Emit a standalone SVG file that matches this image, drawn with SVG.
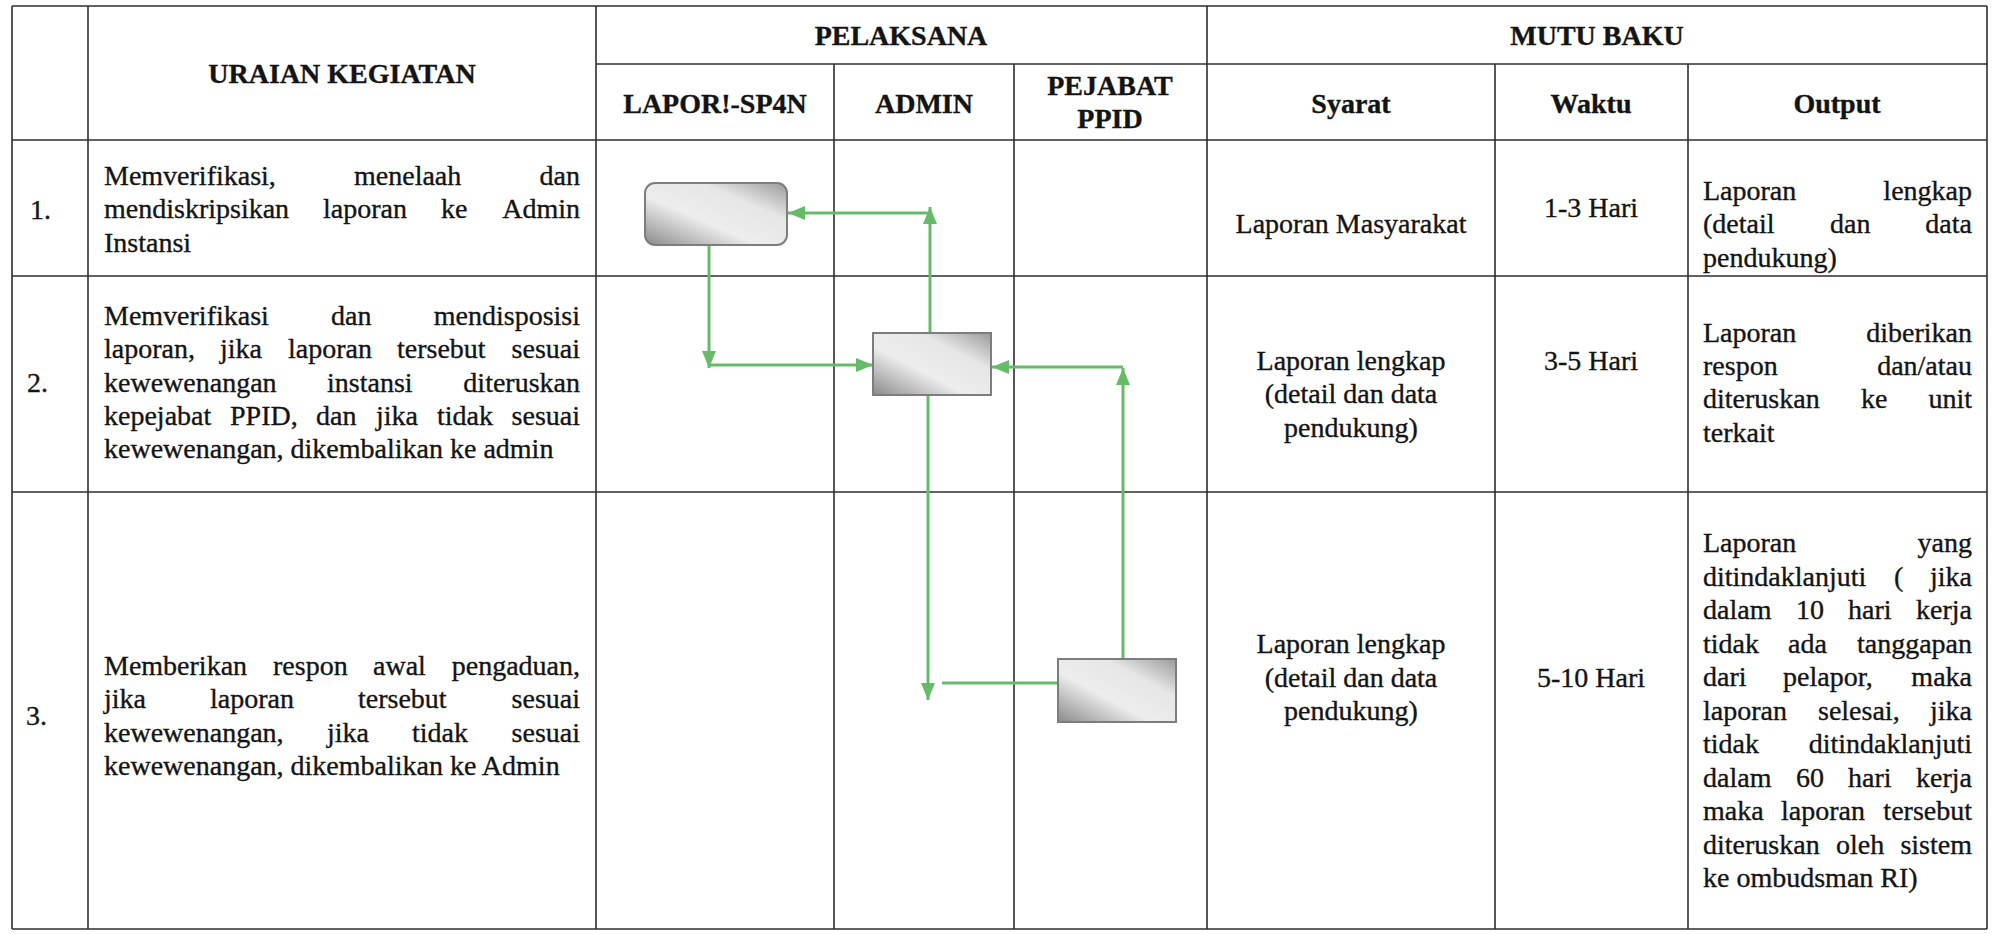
<svg xmlns="http://www.w3.org/2000/svg" width="1996" height="934" viewBox="0 0 1996 934">
<style>
.t{font-family:"Liberation Serif","Times New Roman",serif;font-size:28px;fill:#141414;stroke:#141414;stroke-width:0.35px}
.b{font-weight:bold}
.m{text-anchor:middle}
.r{text-anchor:end}
.grid line{stroke:#2e2e2e;stroke-width:1.6}
.conn{stroke:#66bb6a;stroke-width:3;fill:none}
.box{fill:url(#g);stroke:#7d7d7d;stroke-width:2}
</style>
<defs>
<linearGradient id="g" x1="0" y1="1" x2="1" y2="0">
<stop offset="0" stop-color="#8a8a8a"/>
<stop offset="0.4" stop-color="#ededed"/>
<stop offset="0.7" stop-color="#e6e6e6"/>
<stop offset="1" stop-color="#9a9a9a"/>
</linearGradient>
<marker id="ah" markerUnits="userSpaceOnUse" markerWidth="17" markerHeight="14" refX="17" refY="7" orient="auto">
<path d="M0,0 L17,7 L0,14 z" fill="#66bb6a"/>
</marker>
</defs>
<rect width="1996" height="934" fill="#ffffff"/>
<g id="table" class="grid">
<line x1="12" y1="6" x2="1987" y2="6"/>
<line x1="596" y1="64" x2="1987" y2="64"/>
<line x1="12" y1="140" x2="1987" y2="140"/>
<line x1="12" y1="276" x2="1987" y2="276"/>
<line x1="12" y1="492" x2="1987" y2="492"/>
<line x1="12" y1="929" x2="1987" y2="929"/>
<line x1="12" y1="6" x2="12" y2="929"/>
<line x1="88" y1="6" x2="88" y2="929"/>
<line x1="596" y1="6" x2="596" y2="929"/>
<line x1="834" y1="64" x2="834" y2="929"/>
<line x1="1014" y1="64" x2="1014" y2="929"/>
<line x1="1207" y1="6" x2="1207" y2="929"/>
<line x1="1495" y1="64" x2="1495" y2="929"/>
<line x1="1688" y1="64" x2="1688" y2="929"/>
<line x1="1987" y1="6" x2="1987" y2="929"/>
</g>
<g id="header">
<text class="t b m" x="342" y="83">URAIAN KEGIATAN</text>
<text class="t b m" x="901" y="45">PELAKSANA</text>
<text class="t b m" x="1597" y="45">MUTU BAKU</text>
<text class="t b m" x="715" y="113">LAPOR!-SP4N</text>
<text class="t b m" x="924" y="113">ADMIN</text>
<text class="t b m" x="1110" y="95">PEJABAT</text>
<text class="t b m" x="1110" y="128">PPID</text>
<text class="t b m" x="1351" y="113">Syarat</text>
<text class="t b m" x="1591" y="113">Waktu</text>
<text class="t b m" x="1837" y="113">Output</text>
</g>
<g id="row1">
<text class="t" x="30" y="219">1.</text>
<text class="t" y="185"><tspan x="104">Memverifikasi,</tspan><tspan x="354">menelaah</tspan></text>
<text class="t r" x="580" y="185">dan</text>
<text class="t" y="218"><tspan x="104">mendiskripsikan</tspan><tspan x="323">laporan</tspan><tspan x="441">ke</tspan></text>
<text class="t r" x="580" y="218">Admin</text>
<text class="t" x="104" y="252">Instansi</text>
<text class="t m" x="1351" y="233">Laporan Masyarakat</text>
<text class="t m" x="1591" y="217">1-3 Hari</text>
<text class="t" x="1703" y="200">Laporan</text>
<text class="t r" x="1972" y="200">lengkap</text>
<text class="t" y="233"><tspan x="1703">(detail</tspan><tspan x="1830">dan</tspan></text>
<text class="t r" x="1972" y="233">data</text>
<text class="t" x="1703" y="267">pendukung)</text>
</g>
<g id="row2">
<text class="t" x="27" y="392">2.</text>
<text class="t" y="325"><tspan x="104">Memverifikasi</tspan><tspan x="331">dan</tspan></text>
<text class="t r" x="580" y="325">mendisposisi</text>
<text class="t" y="358"><tspan x="104">laporan,</tspan><tspan x="220">jika</tspan><tspan x="288">laporan</tspan><tspan x="397">tersebut</tspan></text>
<text class="t r" x="580" y="358">sesuai</text>
<text class="t" y="392"><tspan x="104">kewewenangan</tspan><tspan x="327">instansi</tspan></text>
<text class="t r" x="580" y="392">diteruskan</text>
<text class="t" y="425"><tspan x="104">kepejabat</tspan><tspan x="230">PPID,</tspan><tspan x="316">dan</tspan><tspan x="376">jika</tspan><tspan x="437">tidak</tspan></text>
<text class="t r" x="580" y="425">sesuai</text>
<text class="t" x="104" y="458">kewewenangan, dikembalikan ke admin</text>
<text class="t m" x="1351" y="370">Laporan lengkap</text>
<text class="t m" x="1351" y="403">(detail dan data</text>
<text class="t m" x="1351" y="437">pendukung)</text>
<text class="t m" x="1591" y="370">3-5 Hari</text>
<text class="t" x="1703" y="342">Laporan</text>
<text class="t r" x="1972" y="342">diberikan</text>
<text class="t" x="1703" y="375">respon</text>
<text class="t r" x="1972" y="375">dan/atau</text>
<text class="t" y="408"><tspan x="1703">diteruskan</tspan><tspan x="1861">ke</tspan></text>
<text class="t r" x="1972" y="408">unit</text>
<text class="t" x="1703" y="442">terkait</text>
</g>
<g id="row3">
<text class="t" x="26" y="725">3.</text>
<text class="t" y="675"><tspan x="104">Memberikan</tspan><tspan x="273">respon</tspan><tspan x="373">awal</tspan></text>
<text class="t r" x="580" y="675">pengaduan,</text>
<text class="t" y="708"><tspan x="104">jika</tspan><tspan x="210">laporan</tspan><tspan x="358">tersebut</tspan></text>
<text class="t r" x="580" y="708">sesuai</text>
<text class="t" y="742"><tspan x="104">kewewenangan,</tspan><tspan x="327">jika</tspan><tspan x="412">tidak</tspan></text>
<text class="t r" x="580" y="742">sesuai</text>
<text class="t" x="104" y="775">kewewenangan, dikembalikan ke Admin</text>
<text class="t m" x="1351" y="653">Laporan lengkap</text>
<text class="t m" x="1351" y="687">(detail dan data</text>
<text class="t m" x="1351" y="720">pendukung)</text>
<text class="t m" x="1591" y="687">5-10 Hari</text>
<text class="t" x="1703" y="552">Laporan</text>
<text class="t r" x="1972" y="552">yang</text>
<text class="t" y="585.5"><tspan x="1703">ditindaklanjuti</tspan><tspan x="1894">(</tspan></text>
<text class="t r" x="1972" y="585.5">jika</text>
<text class="t" y="619"><tspan x="1703">dalam</tspan><tspan x="1796">10</tspan><tspan x="1848">hari</tspan></text>
<text class="t r" x="1972" y="619">kerja</text>
<text class="t" y="652.5"><tspan x="1703">tidak</tspan><tspan x="1788">ada</tspan></text>
<text class="t r" x="1972" y="652.5">tanggapan</text>
<text class="t" y="686"><tspan x="1703">dari</tspan><tspan x="1783">pelapor,</tspan></text>
<text class="t r" x="1972" y="686">maka</text>
<text class="t" y="719.5"><tspan x="1703">laporan</tspan><tspan x="1818">selesai,</tspan></text>
<text class="t r" x="1972" y="719.5">jika</text>
<text class="t" x="1703" y="753">tidak</text>
<text class="t r" x="1972" y="753">ditindaklanjuti</text>
<text class="t" y="786.5"><tspan x="1703">dalam</tspan><tspan x="1796">60</tspan><tspan x="1848">hari</tspan></text>
<text class="t r" x="1972" y="786.5">kerja</text>
<text class="t" y="820"><tspan x="1703">maka</tspan><tspan x="1781">laporan</tspan></text>
<text class="t r" x="1972" y="820">tersebut</text>
<text class="t" y="853.5"><tspan x="1703">diteruskan</tspan><tspan x="1836">oleh</tspan></text>
<text class="t r" x="1972" y="853.5">sistem</text>
<text class="t" x="1703" y="887">ke ombudsman RI)</text>
</g>
<g id="connectors">
<path class="conn" d="M930,333 L930,207" marker-end="url(#ah)"/>
<path class="conn" d="M930,213 L788,213" marker-end="url(#ah)"/>
<path class="conn" d="M709,246 L709,368" marker-end="url(#ah)"/>
<path class="conn" d="M709,365 L873,365" marker-end="url(#ah)"/>
<path class="conn" d="M1123,659 L1123,368" marker-end="url(#ah)"/>
<path class="conn" d="M1123,367 L992,367" marker-end="url(#ah)"/>
<path class="conn" d="M928,396 L928,700" marker-end="url(#ah)"/>
<path class="conn" d="M1058,683 L942,683"/>
</g>
<g id="node-lapor">
<rect class="box" x="645" y="183" width="142" height="62" rx="10" ry="10"/>
</g>
<g id="node-admin">
<rect class="box" x="873" y="333" width="118" height="62"/>
</g>
<g id="node-ppid">
<rect class="box" x="1058" y="659" width="118" height="63"/>
</g>
</svg>
